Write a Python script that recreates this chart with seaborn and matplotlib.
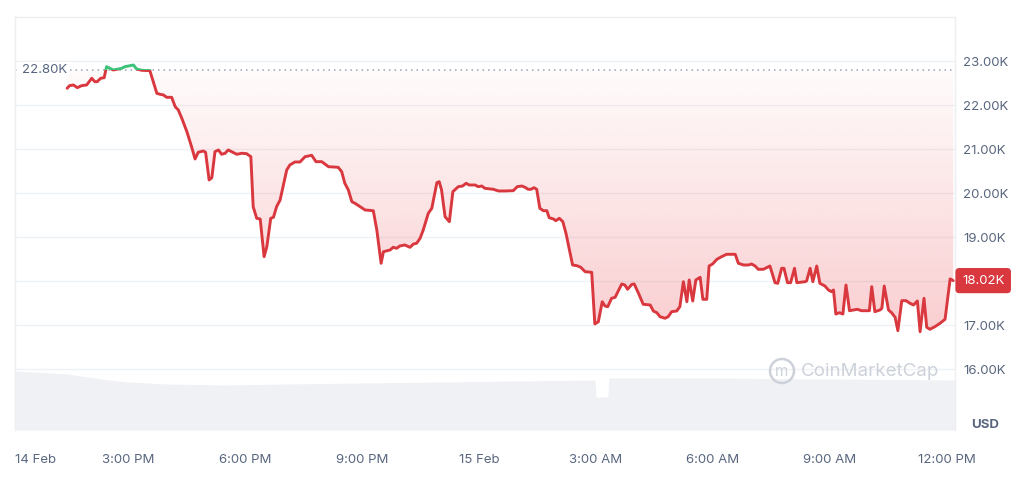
import numpy as np
import pandas as pd
import matplotlib
matplotlib.use("Agg")
import matplotlib.pyplot as plt
import seaborn as sns
from matplotlib.path import Path
from matplotlib.patches import Rectangle, Circle
from matplotlib.colors import to_rgb
from matplotlib.transforms import IdentityTransform

# ---------------- data ----------------
# hours after 14 Feb 12:00 PM
hours = [1.44,1.50,1.60,1.70,1.81,1.94,2.07,2.15,2.21,2.30,
         2.39,2.45,2.54,2.62,2.75,2.84,2.92,3.05,3.14,3.22,
         3.35,3.46,3.56,3.74,3.82,3.91,3.99,4.12,4.21,4.29,
         4.38,4.51,4.63,4.72,4.80,4.93,4.99,5.08,5.15,5.23,
         5.32,5.40,5.49,5.57,5.66,5.79,5.92,6.04,6.15,6.21,
         6.30,6.39,6.49,6.56,6.66,6.73,6.81,6.90,7.07,7.15,
         7.28,7.41,7.54,7.71,7.82,7.97,8.14,8.39,8.48,8.56,
         8.65,8.74,8.82,8.95,9.08,9.29,9.38,9.49,9.55,9.72,
         9.80,9.89,9.97,10.10,10.23,10.32,10.40,10.49,10.57,10.70,
         10.79,10.92,10.98,11.04,11.13,11.24,11.33,11.47,11.58,11.67,
         11.75,11.90,11.98,12.07,12.15,12.37,12.50,12.67,12.88,12.98,
         13.10,13.18,13.26,13.33,13.41,13.48,13.56,13.65,13.74,13.80,
         13.91,13.97,14.06,14.15,14.23,14.32,14.40,14.51,14.61,14.72,
         14.89,14.97,15.06,15.16,15.23,15.30,15.40,15.49,15.66,15.74,
         15.81,15.92,15.98,16.09,16.21,16.39,16.47,16.56,16.64,16.77,
         16.85,16.94,17.07,17.15,17.24,17.33,17.39,17.48,17.56,17.67,
         17.74,17.84,17.90,17.99,18.10,18.22,18.35,18.57,18.65,18.78,
         18.91,18.99,19.08,19.16,19.29,19.46,19.59,19.66,19.76,19.82,
         19.91,19.99,20.09,20.15,20.36,20.40,20.49,20.56,20.66,20.74,
         20.87,20.96,21.04,21.09,21.15,21.24,21.33,21.41,21.50,21.60,
         21.70,21.81,21.94,22.01,22.07,22.15,22.28,22.33,22.39,22.50,
         22.58,22.67,22.74,22.84,22.95,23.05,23.14,23.24,23.31,23.41,
         23.48,23.56,23.69,23.82,23.95,24.08,24.16]
price = [22391,22450,22466,22405,22450,22466,22618,22541,22541,22618,
         22632,22882,22845,22807,22830,22845,22882,22905,22920,22830,
         22800,22795,22795,22277,22255,22239,22186,22186,21973,21898,
         21709,21405,21064,20784,20936,20966,20936,20307,20359,20950,
         20989,20891,20914,20989,20950,20891,20914,20905,20836,19700,
         19436,19420,18564,18791,19436,19459,19700,19852,20534,20648,
         20716,20716,20836,20868,20723,20723,20609,20595,20495,20232,
         20080,19814,19777,19700,19625,19609,19170,18414,18677,18716,
         18777,18755,18807,18830,18777,18852,18868,18982,19170,19550,
         19664,20245,20268,20080,19473,19359,20041,20155,20170,20232,
         20193,20193,20155,20170,20118,20095,20057,20057,20064,20155,
         20170,20141,20095,20095,20132,20095,19664,19609,19609,19450,
         19420,19382,19436,19359,19095,18716,18375,18359,18323,18223,
         18209,17034,17086,17541,17443,17427,17618,17641,17943,17920,
         17823,17936,17943,17732,17482,17466,17330,17291,17200,17164,
         17200,17314,17330,17427,17995,17541,18034,17557,18034,18095,
         17595,17595,18352,18398,18505,18564,18618,18618,18414,18375,
         18375,18398,18352,18277,18277,18352,17973,17959,18300,18300,
         17973,17973,18300,17973,17995,18011,18300,17995,18352,17959,
         17898,17807,17768,17807,17261,17291,17261,17920,17336,17352,
         17368,17336,17336,17336,17882,17314,17352,17391,17898,17352,
         17291,17186,16882,17564,17564,17505,17466,17557,16859,17618,
         16959,16914,16973,17050,17141,18060,18020]

vol_hours = [0.10, 1.44, 2.5, 3.0, 4.0, 5.5, 7.0, 9.0, 11.0, 13.0, 14.97,
             15.0, 15.3, 15.33, 18.0, 21.0, 24.21]
volume_bn = [1.77, 1.68, 1.50, 1.44, 1.38, 1.35, 1.38, 1.41, 1.44, 1.47, 1.50,
             0.99, 0.99, 1.56, 1.56, 1.53, 1.50]

open_price = 22800
open_label = "22.80K"
last_price = 18020
last_label = "18.02K"
y_ticks = [16000, 17000, 18000, 19000, 20000, 21000, 22000, 23000]
y_tick_labels = ["16.00K", "17.00K", "18.00K", "19.00K", "20.00K", "21.00K", "22.00K", "23.00K"]
x_ticks = [3, 6, 9, 12, 15, 18, 21, 24]
x_tick_labels = ["3:00 PM", "6:00 PM", "9:00 PM", "15 Feb", "3:00 AM", "6:00 AM", "9:00 AM", "12:00 PM"]
start_label = "14 Feb"
currency = "USD"
watermark = "CoinMarketCap"

# ---------------- style ----------------
sns.set_theme(style="white")
plt.rcParams['font.family'] = ['Inter', 'DejaVu Sans']

RED = "#d9383f"
GREEN = "#3cc27a"
GRAY = "#58667e"
GRID = "#eff2f5"
FS = 9.5

fig = plt.figure(figsize=(10.24, 4.79), dpi=100)
pos = [15 / 1024, 49 / 479, 940 / 1024, 413 / 479]
axv = fig.add_axes(pos)
ax = fig.add_axes(pos)
ax.patch.set_alpha(0)

xlim = (0.103, 24.205)
ylim = (14625, 24011)

df = pd.DataFrame({"hour": hours, "price": price})
dv = pd.DataFrame({"hour": vol_hours, "volume": volume_bn})

# volume area
axv.fill_between(dv["hour"], dv["volume"], 0, color="#eff1f5", lw=0)
axv.set_xlim(xlim)
axv.set_ylim(0, 12.39)
axv.axis("off")

# gridlines
for t in y_ticks:
    ax.axhline(t, color=GRID, lw=1, zorder=0)

# gradient fill between line and opening price
parr = np.array(price)
poly = ax.fill_between(df["hour"], df["price"], open_price, where=parr <= open_price,
                       interpolate=True, alpha=0, lw=0)
clip = Path.make_compound_path(*poly.get_paths())
r, g, b = to_rgb("#ea3943")
grad = np.zeros((256, 1, 4))
grad[..., 0], grad[..., 1], grad[..., 2] = r, g, b
grad[:, 0, 3] = np.linspace(0.25, 0.02, 256)
im = ax.imshow(grad, extent=[xlim[0], xlim[1], 16800, open_price], origin="lower",
               aspect="auto", zorder=1, interpolation="bilinear")
im.set_clip_path(clip, transform=ax.transData)

# opening price dotted line
ax.axhline(open_price, color="#9aa3b5", lw=1.1, ls=(0, (1, 2.6)), zorder=2)

# price line: red below open, green above
sns.lineplot(data=df, x="hour", y="price", ax=ax, color=RED, lw=2.1, zorder=4)
red_line = ax.lines[-1]
red_line.set_clip_path(Rectangle((xlim[0], ylim[0]), xlim[1] - xlim[0], open_price - ylim[0],
                                 transform=ax.transData))
sns.lineplot(data=df, x="hour", y="price", ax=ax, color=GREEN, lw=2.1, zorder=4)
green_line = ax.lines[-1]
green_line.set_clip_path(Rectangle((xlim[0], open_price), xlim[1] - xlim[0], ylim[1] - open_price,
                                   transform=ax.transData))

ax.set_xlim(xlim)
ax.set_ylim(ylim)

# open label
ax.text(7 / 940, open_price, open_label, transform=ax.get_yaxis_transform(), ha="left",
        va="center", fontsize=FS, color=GRAY, zorder=6,
        bbox=dict(boxstyle="square,pad=0.15", fc="white", ec="none"))

# axes ticks
ax.yaxis.tick_right()
ax.set_yticks(y_ticks, y_tick_labels)
ax.tick_params(axis="y", length=0, pad=6, labelsize=FS, labelcolor=GRAY)
# the tick label under the current-price box is covered in the original
for t, lab in zip(y_ticks, ax.get_yticklabels()):
    if abs(t - last_price) < 500:
        lab.set_visible(False)
ax.set_xticks([xlim[0]] + x_ticks, [start_label] + x_tick_labels)
ax.tick_params(axis="x", length=0, pad=17, labelsize=FS, labelcolor=GRAY)
ax.get_xticklabels()[0].set_horizontalalignment("left")
ax.set_xlabel("")
ax.set_ylabel("")

for side in ["left", "top", "right"]:
    ax.spines[side].set_visible(True)
    ax.spines[side].set_color("#eceef2")
    ax.spines[side].set_linewidth(1)
ax.spines["bottom"].set_visible(False)

# last price box
ax.text(1 + 7 / 940, last_price, last_label, transform=ax.get_yaxis_transform(),
        ha="left", va="center", color="white", fontsize=FS, zorder=10, clip_on=False,
        bbox=dict(boxstyle="round,pad=0.5,rounding_size=0.3", fc=RED, ec="none"))

# currency
fig.text(985 / 1024, 1 - 425 / 479, currency, ha="center", va="center",
         fontsize=FS, weight="bold", color=GRAY)

# watermark
ax.text((801 - 15) / 940, (430 - 372) / 413, watermark, transform=ax.transAxes,
        ha="left", va="center", fontsize=13.5, color="#cdd2da", zorder=3)
fig.patches.append(Circle((782, 479 - 371), 12, transform=IdentityTransform(),
                          fill=False, ec="#cdd2da", lw=1.8))
fig.text(782 / 1024, 1 - 371 / 479, "m", ha="center", va="center", fontsize=11,
         color="#cdd2da")

fig.savefig("out.png", dpi=100)
